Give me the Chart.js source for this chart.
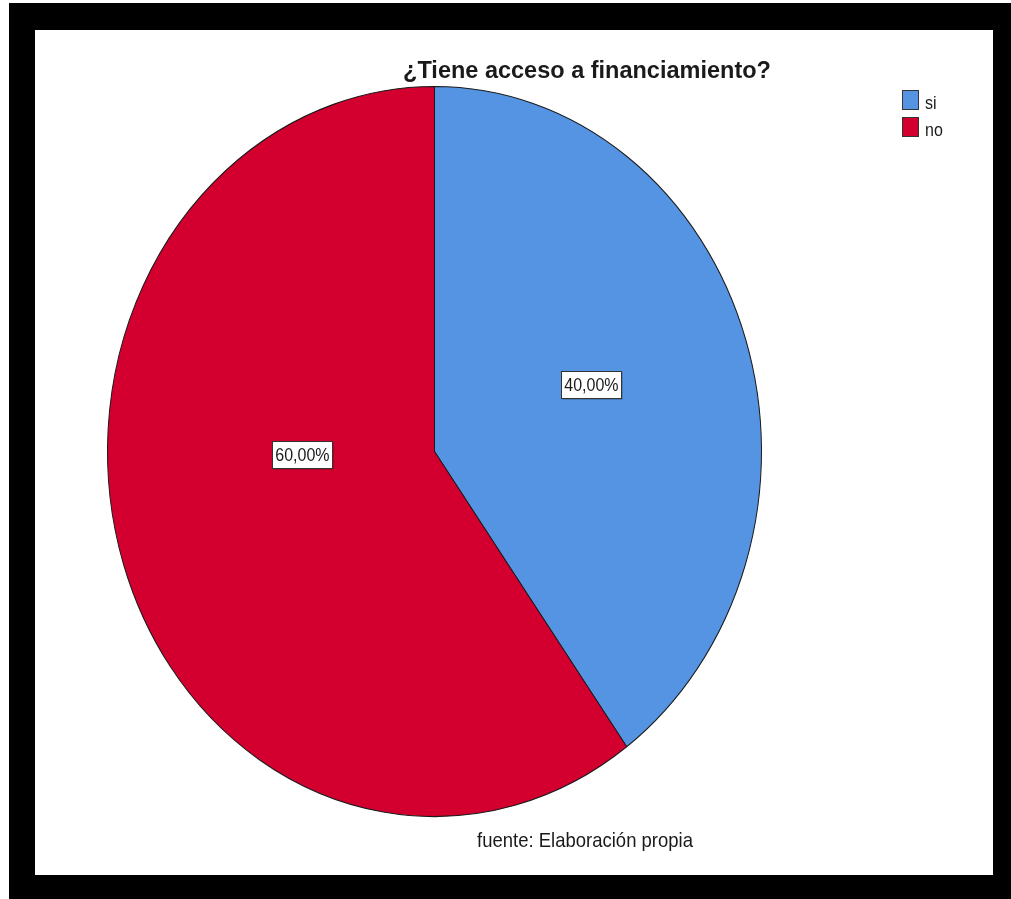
<!DOCTYPE html>
<html>
<head>
<meta charset="utf-8">
<script src="https://cdn.jsdelivr.net/npm/chart.js@4/dist/chart.umd.min.js"></script>
<style>
  body { margin: 0; background: #fff; }
  #marco { position: absolute; left: 9px; top: 3px; width: 1002px; height: 896px; background: #000; }
  #grafica { position: absolute; left: 35px; top: 30px; background: #fff; }
</style>
</head>
<body>
<div id="marco"></div>
<canvas id="grafica" width="958" height="845"></canvas>
<script>
// Datos de la gráfica
var categorias = ['si', 'no'];
var porcentajes = [40, 60];
var etiquetas = ['40,00%', '60,00%'];

var colores = ['#5594e3', '#d3002f'];
var titulo = '¿Tiene acceso a financiamiento?';
var fuente = 'fuente: Elaboración propia';

// El pastel original sale estirado en vertical (ovalado)
var estiramiento = 365 / 327;

// Donde van las cajitas de porcentaje, en fracciones del radio
var posEtiquetas = [[0.48, -0.184], [-0.404, 0.008]];

// Texto con un poco de estiramiento vertical como en el original
function texto(ctx, t, x, y, font, sy, align) {
  ctx.save();
  ctx.translate(x, y);
  ctx.scale(1, sy);
  ctx.font = font;
  ctx.fillStyle = '#1a1a1a';
  ctx.textAlign = align;
  ctx.textBaseline = 'alphabetic';
  ctx.fillText(t, 0, 0);
  ctx.restore();
}

var ovalo = {
  id: 'ovalo',
  beforeDatasetsDraw: function(chart) {
    var arco = chart.getDatasetMeta(0).data[0];
    var ctx = chart.ctx;
    ctx.save();
    ctx.translate(arco.x, arco.y);
    ctx.scale(1, estiramiento);
    ctx.translate(-arco.x, -arco.y);
  },
  afterDatasetsDraw: function(chart) {
    chart.ctx.restore();
  },
  afterDraw: function(chart) {
    var ctx = chart.ctx;
    var meta = chart.getDatasetMeta(0);

    // Etiquetas con caja blanca
    meta.data.forEach(function(arco, i) {
      var r = arco.outerRadius;
      var x = arco.x + posEtiquetas[i][0] * r;
      var y = arco.y + posEtiquetas[i][1] * r * estiramiento;
      var w = 60, h = 27;
      var bx = Math.round(x - w / 2) + 0.5, by = Math.round(y - h / 2) + 0.5;
      ctx.save();
      ctx.fillStyle = 'rgba(0,0,0,0.35)';
      ctx.fillRect(bx + 1, by + 1, w, h);
      ctx.fillStyle = '#fff';
      ctx.fillRect(bx, by, w, h);
      ctx.strokeStyle = '#333';
      ctx.lineWidth = 1;
      ctx.strokeRect(bx, by, w, h);
      ctx.restore();
      texto(ctx, etiquetas[i], x, y + 6.5, '16px "Liberation Sans", Arial', 1.12, 'center');
    });

    // Titulo
    texto(ctx, titulo, 552, 48, 'bold 23.5px "Liberation Sans", Arial', 1, 'center');

    // Leyenda
    categorias.forEach(function(c, i) {
      var y0 = 60 + i * 27;
      ctx.save();
      ctx.fillStyle = colores[i];
      ctx.fillRect(867, y0, 16, 19);
      ctx.strokeStyle = '#333';
      ctx.lineWidth = 1;
      ctx.strokeRect(867.5, y0 + 0.5, 16, 19);
      ctx.restore();
      texto(ctx, c, 890, y0 + 19, '16px "Liberation Sans", Arial', 1.12, 'left');
    });

    // Fuente
    texto(ctx, fuente, 550, 817, '18.5px "Liberation Sans", Arial', 1.1, 'center');
  }
};

var ctx = document.getElementById('grafica').getContext('2d');
var grafica = new Chart(ctx, {
  type: 'pie',
  data: {
    labels: categorias,
    datasets: [{
      data: porcentajes,
      backgroundColor: colores,
      borderColor: '#1a1a1a',
      borderWidth: 1
    }]
  },
  options: {
    responsive: false,
    animation: false,
    devicePixelRatio: 1,
    layout: { padding: { left: 72, right: 231, top: 94, bottom: 96 } },
    plugins: {
      legend: { display: false },
      title: { display: false },
      tooltip: { enabled: false }
    }
  },
  plugins: [ovalo]
});
</script>
</body>
</html>
